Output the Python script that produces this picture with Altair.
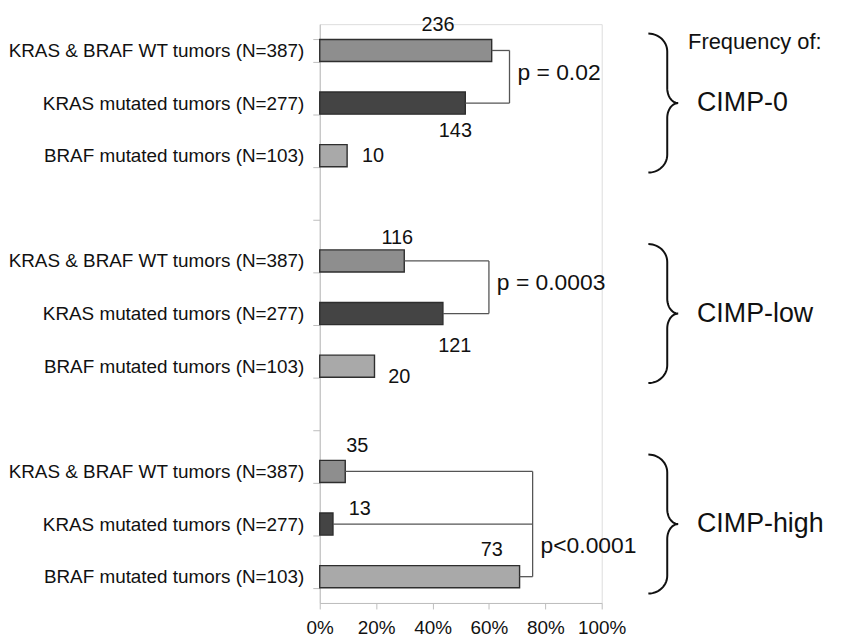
import json
import math
import altair as alt
import pandas as pd

# ---------------- data ----------------
group_names = ["CIMP-0", "CIMP-low", "CIMP-high"]
tumor_labels = ["KRAS & BRAF WT tumors (N=387)",
                "KRAS mutated tumors (N=277)",
                "BRAF mutated tumors (N=103)"]
tumor_keys = ["WT", "KRAS", "BRAF"]
tumor_totals = [387, 277, 103]
cimp0_counts = [236, 143, 10]
cimplow_counts = [116, 121, 20]
cimphigh_counts = [35, 13, 73]
group_counts = [cimp0_counts, cimplow_counts, cimphigh_counts]
p_labels = ["p = 0.02", "p = 0.0003", "p<0.0001"]
compared = [[0, 1], [0, 1], [0, 1, 2]]          # bars joined by each bracket
x_tick_values = [0, 0.2, 0.4, 0.6, 0.8, 1.0]
heading = "Frequency of:"

# ---------------- layout / style ----------------
FONT = "Liberation Sans"
bar_colors = ["#8e8e8e", "#444444", "#a9a9a9"]
W, H = 284, 583
N_ROWS = 11                      # 3 bars + gap + 3 bars + gap + 3 bars
ROW_PX = H / N_ROWS
ROWS_PER_GROUP = 4
# pixel offsets of each count label from (bar end, bar centre)
label_offsets_px = [[(-54, -26), (-10, 28), (26, 0)],
                    [(-7, -23), (12, 33), (25, 11)],
                    [(12, -26), (27, -15), (-28, -27)]]
bracket_x = [0.673, 0.60, 0.755]     # x of bracket spines (fraction units)
P_DX_PX, P_DY_PX = 8, -4
BRACE_TIP_X = (683 - 322) / W
CIMP_X = (702 - 322) / W
HEADING_X = (693 - 322) / W
HEADING_Y = (40 - 22) / ROW_PX


def px_x(p):
    return p / W


def px_y(p):
    return p / ROW_PX


# ---------------- tables ----------------
row_labels = [""] * N_ROWS
bar_rows = []
for g, counts in enumerate(group_counts):
    for i, (c, n) in enumerate(zip(counts, tumor_totals)):
        r = g * ROWS_PER_GROUP + i
        row_labels[r] = tumor_labels[i]
        bar_rows.append({"row": r, "x": c / n, "key": tumor_keys[i],
                         "count": str(c), "g": g, "i": i})
bars_df = pd.DataFrame(bar_rows)


def frac_of(g, i):
    return group_counts[g][i] / tumor_totals[i]


label_rows = []
for b in bar_rows:
    dx, dy = label_offsets_px[b["g"]][b["i"]]
    label_rows.append({"x": b["x"] + px_x(dx),
                       "y": b["row"] + 0.5 + px_y(dy),
                       "text": b["count"]})
labels_df = pd.DataFrame(label_rows)

seg_rows = []
p_rows = []
for g, members in enumerate(compared):
    bx = bracket_x[g]
    ys = []
    for i in members:
        yc = g * ROWS_PER_GROUP + i + 0.5
        ys.append(yc)
        seg_rows.append({"x": frac_of(g, i), "x2": bx, "y": yc, "y2": yc})
    seg_rows.append({"x": bx, "x2": bx, "y": min(ys), "y2": max(ys)})
    p_rows.append({"x": bx + px_x(P_DX_PX),
                   "y": (ys[-1] + ys[-2]) / 2 + px_y(P_DY_PX),
                   "text": p_labels[g]})
segs_df = pd.DataFrame(seg_rows)
p_df = pd.DataFrame(p_rows)

# curly braces (pixel geometry relative to the tip)
HALF, SPINE, LEFT = 70, -11, -30
R1X, R1Y, R2X, R2Y = 19, 18, 11, 15
half_pts = []
n_arc = 14
for k in range(n_arc + 1):
    t = (math.pi / 2) * k / n_arc
    half_pts.append((LEFT + R1X * math.sin(t), -HALF + R1Y - R1Y * math.cos(t)))
for k in range(n_arc + 1):
    t = (math.pi / 2) * k / n_arc
    half_pts.append((SPINE + R2X * (1 - math.cos(t)), -R2Y + R2Y * math.sin(t)))
full_pts = half_pts + [(x, -y) for (x, y) in reversed(half_pts[:-1])]

brace_rows = []
cimp_rows = []
for g, name in enumerate(group_names):
    tip_row = g * ROWS_PER_GROUP + 1.5
    for j, (x, y) in enumerate(full_pts):
        brace_rows.append({"g": g, "j": j,
                           "x": BRACE_TIP_X + px_x(x),
                           "y": tip_row + px_y(y)})
    cimp_rows.append({"x": CIMP_X, "y": tip_row, "text": name})
brace_df = pd.DataFrame(brace_rows)
cimp_df = pd.DataFrame(cimp_rows)
head_df = pd.DataFrame([{"x": HEADING_X, "y": HEADING_Y, "text": heading}])

# ---------------- chart ----------------
xscale = alt.Scale(domain=[0, 1], nice=False, zero=False)
xaxis = alt.Axis(values=x_tick_values, format=".0%", title=None, grid=False,
                 tickSize=6, tickColor="#bdbdbd", domainColor="#bdbdbd",
                 labelFontSize=19, labelFont=FONT, labelColor="#111111",
                 labelPadding=10, labelFlush=False)
X = alt.X("x:Q", scale=xscale, axis=xaxis, title=None)
yq = alt.Scale(domain=[0, N_ROWS], reverse=True, nice=False, zero=False)
YQ = alt.Y("y:Q", scale=yq, axis=None)

bars = alt.Chart(bars_df).mark_bar(stroke="#2e2e2e", strokeWidth=1.4).encode(
    x=X,
    y=alt.Y("row:O",
            scale=alt.Scale(domain=list(range(N_ROWS)), paddingInner=0.58, paddingOuter=0.29),
            axis=alt.Axis(title=None, labelExpr=json.dumps(row_labels) + "[datum.value]",
                          tickBand="extent", tickSize=7, tickColor="#bdbdbd",
                          domainColor="#bdbdbd", labelFontSize=19, labelFont=FONT,
                          labelColor="#111111", labelPadding=9, labelLimit=0, grid=False)),
    color=alt.Color("key:N", scale=alt.Scale(domain=tumor_keys, range=bar_colors), legend=None),
)

segs = alt.Chart(segs_df).mark_rule(color="#555555", strokeWidth=1.3, clip=False).encode(
    x=X, x2="x2:Q", y=YQ, y2="y2:Q")

braces = alt.Chart(brace_df).mark_line(color="#111111", strokeWidth=2, clip=False).encode(
    x=X, y=YQ, detail="g:N", order="j:Q")


def text_layer(df, size, align):
    return alt.Chart(df).mark_text(fontSize=size, font=FONT, align=align, baseline="middle",
                                   color="#111111", clip=False).encode(
        x=X, y=YQ, text="text:N")


overlay = alt.layer(segs, braces,
                    text_layer(labels_df, 20, "center"),
                    text_layer(p_df, 23, "left"),
                    text_layer(cimp_df, 27, "left"),
                    text_layer(head_df, 22, "left"))

chart = alt.layer(bars, overlay).resolve_scale(y="independent").properties(
    width=W, height=H,
    padding={"left": 314, "top": 14, "right": 238, "bottom": 36},
    autosize=alt.AutoSizeParams(type="none"),
).configure_view(strokeWidth=0, strokeOpacity=0).configure(font=FONT, background="white")

chart.save("out.html", embed_options={"renderer": "svg", "actions": False})
